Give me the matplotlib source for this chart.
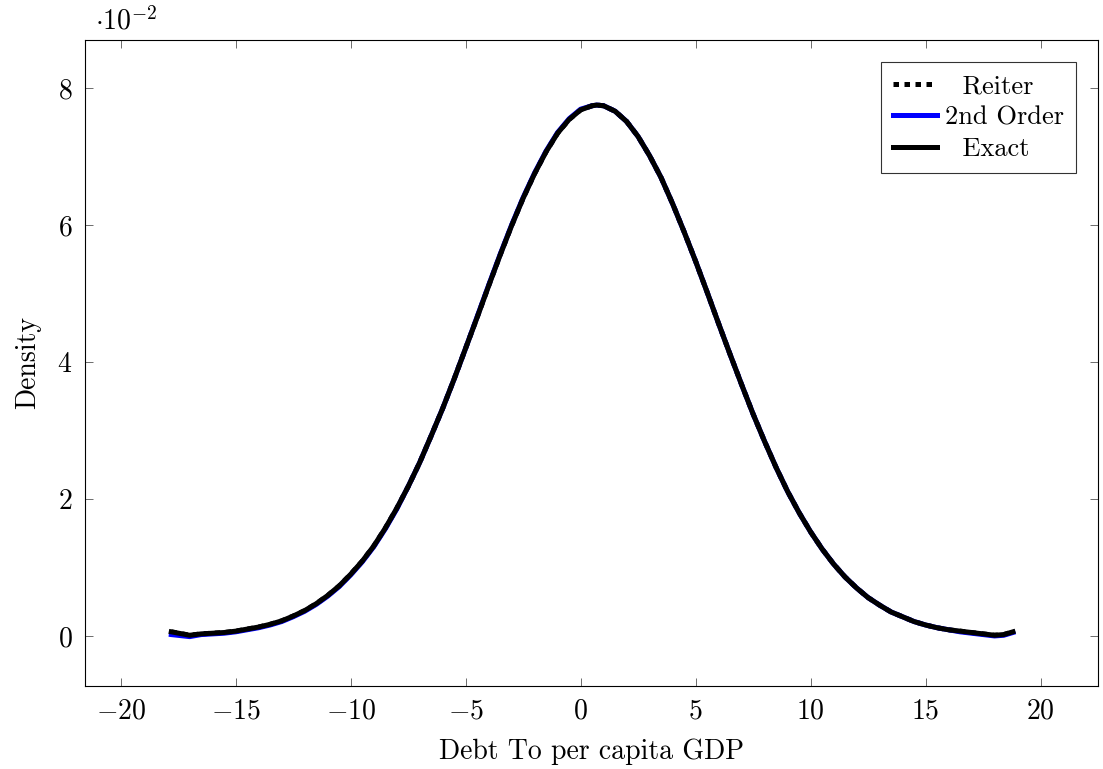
import matplotlib
matplotlib.use("Agg")
import matplotlib.pyplot as plt

plt.rcParams['font.family'] = 'serif'
plt.rcParams['font.serif'] = ['cmr10', 'DejaVu Serif']
plt.rcParams['mathtext.fontset'] = 'cm'
plt.rcParams['axes.formatter.use_mathtext'] = True

# debt to GDP grid and densities (in units of 1e-2)
x = [-17.8, -17, -16.5, -16, -15.5, -15, -14.5, -14, -13.5, -13, -12.5, -12, -11.5, -11,
     -10.5, -10, -9.5, -9, -8.5, -8, -7.5, -7, -6.5, -6, -5.5, -5, -4.5, -4, -3.5, -3,
     -2.5, -2, -1.5, -1, -0.5, 0, 0.5, 0.7, 1, 1.5, 2, 2.5, 3, 3.5, 4, 4.5, 5, 5.5, 6,
     6.5, 7, 7.5, 8, 8.5, 9, 9.5, 10, 10.5, 11, 11.5, 12, 12.5, 13, 13.5, 14, 14.5, 15,
     15.5, 16, 16.5, 17, 17.5, 18, 18.4, 18.8]
exact = [0.06, 0.01, 0.03, 0.04, 0.05, 0.07, 0.10, 0.13, 0.17, 0.22, 0.29, 0.37, 0.47, 0.59,
         0.73, 0.90, 1.09, 1.31, 1.57, 1.86, 2.18, 2.53, 2.92, 3.32, 3.75, 4.20, 4.65, 5.11,
         5.56, 5.99, 6.39, 6.75, 7.07, 7.34, 7.54, 7.68, 7.74, 7.75, 7.74, 7.66, 7.51, 7.29,
         7.01, 6.69, 6.31, 5.90, 5.47, 5.02, 4.56, 4.11, 3.67, 3.24, 2.84, 2.46, 2.11, 1.80,
         1.52, 1.27, 1.05, 0.86, 0.70, 0.56, 0.45, 0.35, 0.28, 0.21, 0.16, 0.12, 0.09, 0.07,
         0.05, 0.03, 0.01, 0.02, 0.06]
reiter = list(exact)
second = [0.02, -0.01, 0.02, 0.03, 0.04, 0.06, 0.09, 0.12, 0.16, 0.21, 0.28, 0.36, 0.46, 0.58,
          0.72, 0.89, 1.08, 1.30, 1.56, 1.85, 2.18, 2.53, 2.92, 3.32, 3.75, 4.20, 4.66, 5.12,
          5.57, 6.00, 6.40, 6.76, 7.08, 7.35, 7.55, 7.69, 7.74, 7.75, 7.74, 7.66, 7.51, 7.29,
          7.01, 6.69, 6.31, 5.90, 5.47, 5.02, 4.56, 4.11, 3.67, 3.24, 2.84, 2.46, 2.11, 1.80,
          1.52, 1.27, 1.05, 0.86, 0.70, 0.56, 0.45, 0.35, 0.28, 0.21, 0.16, 0.12, 0.09, 0.06,
          0.04, 0.02, 0.00, 0.01, 0.05]

fig = plt.figure(figsize=(11.03, 7.69), dpi=100)
ax = fig.add_axes([0.0771, 0.108, 0.9184, 0.840])

ax.plot(x, reiter, color='black', lw=3.6, ls=(0, (1.1, 1.1)), label='  Reiter')
ax.plot(x, second, color='blue', lw=3.6, label='2nd Order')
ax.plot(x, exact, color='black', lw=3.6, label='  Exact')

ax.set_xlim(-21.55, 22.5)
ax.set_ylim(-0.73, 8.7)
ax.set_xticks([-20, -15, -10, -5, 0, 5, 10, 15, 20])
ax.set_yticks([0, 2, 4, 6, 8])
ax.tick_params(direction='in', top=True, right=True, labelsize=20, length=6,
               width=0.6, color='#555555', pad=9)
for s in ax.spines.values():
    s.set_linewidth(0.8)

ax.set_xlabel('Debt To per capita GDP', fontsize=20, labelpad=10)
ax.set_ylabel('Density', fontsize=20, labelpad=12)
ax.text(0.01, 1.016, r'$\cdot 10^{-2}$', transform=ax.transAxes, fontsize=20,
        ha='left', va='baseline')

leg = ax.legend(loc='upper right', fontsize=19, frameon=True, fancybox=False,
                edgecolor='black', handlelength=1.65, borderaxespad=0.85,
                handletextpad=0.3, borderpad=0.45, labelspacing=0.3)
leg.get_frame().set_linewidth(0.8)

fig.savefig('out.png', dpi=100)
